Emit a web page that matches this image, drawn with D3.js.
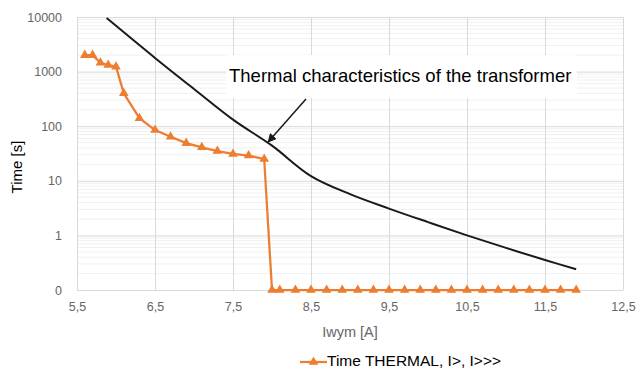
<!DOCTYPE html>
<html>
<head>
<meta charset="utf-8">
<script src="https://cdn.jsdelivr.net/npm/d3@7"></script>
<style>
  html, body { margin: 0; padding: 0; background: #fff; }
  svg { display: block; font-family: "Liberation Sans", Arial, sans-serif; }
</style>
</head>
<body>
<svg id="chart" width="638" height="369"></svg>
<script>
// thermal relay curve (orange); bottom points sit on the axis floor labelled "0"
const relayCurrent = [5.6, 5.7, 5.8, 5.9, 6.0, 6.1, 6.3, 6.5, 6.7, 6.9, 7.1, 7.3, 7.5, 7.7, 7.9,
  8.0, 8.1, 8.3, 8.5, 8.7, 8.9, 9.1, 9.3, 9.5, 9.7, 9.9, 10.1, 10.3, 10.5, 10.7, 10.9, 11.1, 11.3, 11.5, 11.7, 11.9];
const relayTime = [2000, 2000, 1450, 1320, 1230, 400, 140, 85, 64, 49, 41, 35, 31, 29, 25,
  0.1, 0.1, 0.1, 0.1, 0.1, 0.1, 0.1, 0.1, 0.1, 0.1, 0.1, 0.1, 0.1, 0.1, 0.1, 0.1, 0.1, 0.1, 0.1, 0.1, 0.1];

// transformer thermal characteristic (black)
const trafoCurrent = [5.88, 6.0, 6.5, 7.0, 7.5, 8.0, 8.5, 9.0, 9.5, 10.0, 10.5, 11.0, 11.5, 11.9];
const trafoTime = [9600, 6900, 1780, 480, 132, 44, 12.2, 5.7, 3.1, 1.75, 1.0, 0.59, 0.355, 0.24];

const xTicks = [5.5, 6.5, 7.5, 8.5, 9.5, 10.5, 11.5, 12.5];
const yTicks = [0.1, 1, 10, 100, 1000, 10000];

const seriesName = "Time THERMAL, I>, I>>>";
const noteText = "Thermal characteristics of the transformer";
const xTitle = "Iwym [A]";
const yTitle = "Time [s]";

const svg = d3.select("#chart");
const margin = { top: 17, right: 15, bottom: 79, left: 77 };
const W = 638, H = 369;

const x = d3.scaleLinear().domain([5.5, 12.5]).range([margin.left, W - margin.right]);
const y = d3.scaleLog().domain([0.1, 10000]).range([H - margin.bottom, margin.top]);

// minor grid (2..9 inside each decade)
const minor = [];
for (let p = -1; p < 4; p++) {
  for (let k = 2; k < 10; k++) minor.push(k * Math.pow(10, p));
}
svg.append("g")
  .selectAll("line")
  .data(minor)
  .join("line")
  .attr("x1", x.range()[0]).attr("x2", x.range()[1])
  .attr("y1", d => y(d)).attr("y2", d => y(d))
  .attr("stroke", "#f0f0f0").attr("stroke-width", 1);

// major grid
svg.append("g")
  .attr("transform", `translate(${margin.left},0)`)
  .call(d3.axisLeft(y).tickValues(yTicks).tickSize(-(W - margin.left - margin.right)).tickFormat(""))
  .call(g => g.select(".domain").remove())
  .call(g => g.selectAll("line").attr("stroke", "#d9d9d9"));

svg.append("g")
  .attr("transform", `translate(0,${H - margin.bottom})`)
  .call(d3.axisBottom(x).tickValues(xTicks).tickSize(-(H - margin.top - margin.bottom)).tickFormat(""))
  .call(g => g.select(".domain").remove())
  .call(g => g.selectAll("line").attr("stroke", "#d9d9d9"));

// tick labels
svg.append("g")
  .attr("transform", `translate(${margin.left},0)`)
  .call(d3.axisLeft(y).tickValues(yTicks).tickSize(0).tickPadding(15)
    .tickFormat(d => d < 1 ? "0" : String(d)))
  .call(g => g.select(".domain").remove())
  .call(g => g.selectAll("text").attr("fill", "#666").attr("font-size", 12.5)
    .attr("font-family", "'Liberation Sans', Arial, sans-serif"));

svg.append("g")
  .attr("transform", `translate(0,${H - margin.bottom})`)
  .call(d3.axisBottom(x).tickValues(xTicks).tickSize(0).tickPadding(12)
    .tickFormat(d => d3.format(".1f")(d).replace(".", ",")))
  .call(g => g.select(".domain").remove())
  .call(g => g.selectAll("text").attr("fill", "#666").attr("font-size", 12.5)
    .attr("font-family", "'Liberation Sans', Arial, sans-serif"));

// axis titles
svg.append("text")
  .attr("x", x(9.0)).attr("y", 337)
  .attr("text-anchor", "middle")
  .attr("fill", "#666").attr("font-size", 14.5)
  .text(xTitle);

svg.append("text")
  .attr("transform", "translate(22,167) rotate(-90)")
  .attr("text-anchor", "middle")
  .attr("fill", "#000").attr("font-size", 15)
  .text(yTitle);

// clip the curves to the plot
svg.append("clipPath").attr("id", "plot-clip")
  .append("rect")
  .attr("x", margin.left).attr("y", margin.top)
  .attr("width", W - margin.left - margin.right)
  .attr("height", H - margin.top - margin.bottom);

const trafo = trafoCurrent.map((c, i) => ({ c, t: trafoTime[i] }));
const relay = relayCurrent.map((c, i) => ({ c, t: relayTime[i] }));

svg.append("path")
  .datum(trafo)
  .attr("clip-path", "url(#plot-clip)")
  .attr("fill", "none")
  .attr("stroke", "#1a1a1a")
  .attr("stroke-width", 2)
  .attr("d", d3.line().x(d => x(d.c)).y(d => y(d.t)).curve(d3.curveCatmullRom));

svg.append("path")
  .datum(relay)
  .attr("fill", "none")
  .attr("stroke", "#ed7d31")
  .attr("stroke-width", 2.25)
  .attr("stroke-linejoin", "round")
  .attr("d", d3.line().x(d => x(d.c)).y(d => y(d.t)));

const tri = d3.symbol().type(d3.symbolTriangle).size(40);
svg.append("g")
  .selectAll("path")
  .data(relay)
  .join("path")
  .attr("transform", d => `translate(${x(d.c)},${y(d.t)})`)
  .attr("d", tri)
  .attr("fill", "#ed7d31");

// annotation
svg.append("rect")
  .attr("x", 226).attr("y", 55).attr("width", 351).attr("height", 43)
  .attr("fill", "#fff");
svg.append("text")
  .attr("x", 229).attr("y", 82)
  .attr("fill", "#000").attr("font-size", 18.5)
  .text(noteText);

svg.append("defs").append("marker")
  .attr("id", "arrowhead")
  .attr("viewBox", "0 0 10 10")
  .attr("refX", 9).attr("refY", 5)
  .attr("markerWidth", 6).attr("markerHeight", 6)
  .attr("orient", "auto")
  .append("path")
  .attr("d", "M0,0L10,5L0,10z")
  .attr("fill", "#1a1a1a");

svg.append("line")
  .attr("x1", 306).attr("y1", 99)
  .attr("x2", x(7.95)).attr("y2", y(49) - 1)
  .attr("stroke", "#1a1a1a").attr("stroke-width", 1.5)
  .attr("marker-end", "url(#arrowhead)");

// legend
const lg = svg.append("g").attr("transform", "translate(300,362)");
lg.append("line").attr("x1", 0).attr("x2", 27).attr("y1", 0).attr("y2", 0)
  .attr("stroke", "#ed7d31").attr("stroke-width", 2.25);
lg.append("path").attr("transform", "translate(13.5,0)").attr("d", tri).attr("fill", "#ed7d31");
lg.append("text").attr("x", 27).attr("y", 4)
  .attr("fill", "#000").attr("font-size", 15.5)
  .text(seriesName);
</script>
</body>
</html>
